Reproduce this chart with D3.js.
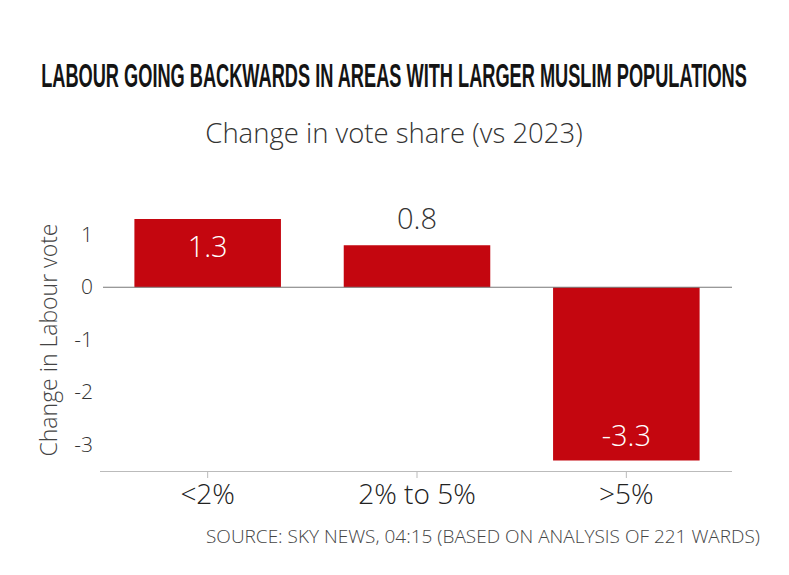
<!DOCTYPE html>
<html><head><meta charset="utf-8">
<script src="https://cdn.jsdelivr.net/npm/d3@7"></script>
<style>body{margin:0;background:#fff}svg{display:block}</style>
</head><body>
<svg id="c" width="789" height="575"></svg>
<script>
const categories = ["<2%", "2% to 5%", ">5%"];
const values = [1.3, 0.8, -3.3];
const valueLabels = ["1.3", "0.8", "-3.3"];
const yTicks = [1, 0, -1, -2, -3];
const title = "LABOUR GOING BACKWARDS IN AREAS WITH LARGER MUSLIM POPULATIONS";
const subtitle = "Change in vote share (vs 2023)";
const yLabel = "Change in Labour vote";
const source = "SOURCE: SKY NEWS, 04:15 (BASED ON ANALYSIS OF 221 WARDS)";

const svg = d3.select("#c");
const red = "#c4060f";
const font = "Open Sans, sans-serif";
const x = d3.scaleBand().domain(categories).range([103, 731]).paddingInner(0.3).paddingOuter(0.15);
const y = d3.scaleLinear().domain([-3.5, 1.5]).range([471, 208.5]);

// title, horizontally condensed to fit the reference width
const tg = svg.append("g");
const tt = tg.append("text").attr("x", 0).attr("y", 0).attr("text-anchor", "middle")
  .attr("font-family", "Liberation Sans Narrow, Arial Narrow, sans-serif").attr("font-weight", "bold")
  .attr("font-size", 31).attr("fill", "#141414").text(title);
const natural = tt.node().getComputedTextLength();
const sx = Math.min(1, 706 / natural);
tg.attr("transform", `translate(394,87) scale(${sx},1.05)`);

svg.append("text").attr("x", 394).attr("y", 143).attr("text-anchor", "middle")
  .attr("font-family", font).attr("font-weight", 300)
  .attr("font-size", 27.5).attr("fill", "#333").text(subtitle);

// bottom axis
const xAxis = svg.append("g").attr("transform", `translate(0,${y(-3.5)})`)
  .call(d3.axisBottom(x).tickSize(7).tickSizeOuter(0));
xAxis.select(".domain").attr("stroke", "#bbb").attr("d", "M100,0.5H732");
xAxis.selectAll(".tick line").attr("stroke", "#bbb");
xAxis.selectAll(".tick text").attr("font-family", font).attr("font-weight", 300)
  .attr("font-size", 28).attr("fill", "#222").attr("y", 33).attr("dy", 0);

// left axis labels
const yAxis = svg.append("g").attr("transform", "translate(93,0)")
  .call(d3.axisLeft(y).tickValues(yTicks).tickSize(0).tickPadding(0).tickFormat(d => String(d)));
yAxis.select(".domain").remove();
yAxis.selectAll(".tick text").attr("font-family", font).attr("font-weight", 300)
  .attr("font-size", 21).attr("fill", "#333");

svg.append("text").attr("transform", `translate(57,340) rotate(-90)`).attr("text-anchor", "middle")
  .attr("font-family", font).attr("font-weight", 300)
  .attr("font-size", 23).attr("fill", "#444").text(yLabel);

// bars
svg.selectAll("rect.bar").data(values).enter().append("rect").attr("class", "bar")
  .attr("x", (d, i) => x(categories[i])).attr("width", x.bandwidth())
  .attr("y", d => y(Math.max(0, d))).attr("height", d => Math.abs(y(d) - y(0)))
  .attr("fill", red);

// zero line
svg.append("line").attr("x1", 103).attr("x2", 732).attr("y1", y(0)).attr("y2", y(0))
  .attr("stroke", "#777").attr("stroke-width", 1.2);

// value labels
const inside = d => Math.abs(y(d) - y(0)) >= 50;
svg.selectAll("text.val").data(values).enter().append("text").attr("class", "val")
  .attr("x", (d, i) => x(categories[i]) + x.bandwidth() / 2)
  .attr("y", d => {
    if (!inside(d)) return y(d) - 16;
    return d >= 0 ? y(d) + 38 : y(d) - 15;
  })
  .attr("text-anchor", "middle").attr("font-family", font).attr("font-weight", 300)
  .attr("font-size", 29)
  .attr("fill", d => inside(d) ? "#fff" : "#333")
  .text((d, i) => valueLabels[i]);

svg.append("text").attr("x", 760).attr("y", 543).attr("text-anchor", "end")
  .attr("font-family", font).attr("font-weight", 300)
  .attr("font-size", 19).attr("fill", "#444").text(source);
</script>
</body></html>
